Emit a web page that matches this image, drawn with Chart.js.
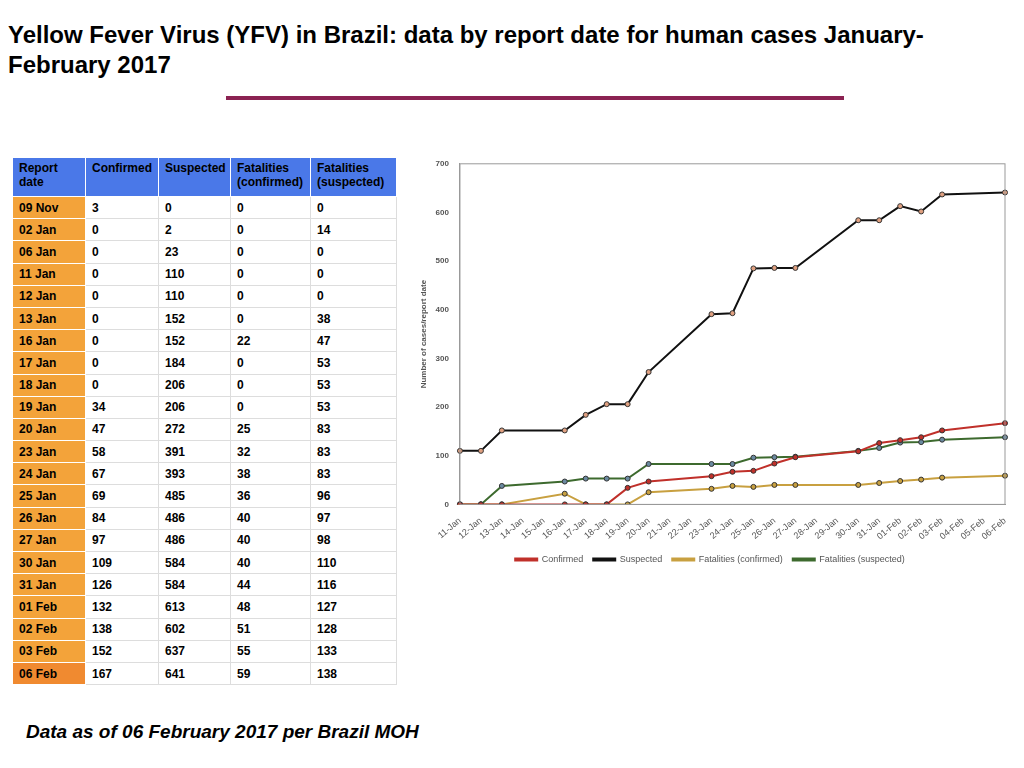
<!DOCTYPE html>
<html><head><meta charset="utf-8">
<script src="https://cdn.jsdelivr.net/npm/chart.js@4/dist/chart.umd.min.js"></script>
<style>
body{margin:0;width:1024px;height:768px;background:#fff;font-family:"Liberation Sans",Arial,sans-serif;position:relative;overflow:hidden}
h1{position:absolute;left:8px;top:20px;width:1010px;margin:0;font-size:24px;line-height:30px;font-weight:bold;text-align:justify;text-align-last:left}
#rule{position:absolute;left:226px;top:96px;width:618px;height:4px;background:#8b2252}
table{position:absolute;left:12px;top:157px;width:384px;border-collapse:collapse;font-size:12px;font-weight:bold;table-layout:fixed}
td,th{border:1px solid #ddd;padding:0 6px;text-align:left;height:21.2px}
th{background:#4a78e8;vertical-align:top;padding-top:3px;height:35px;font-weight:bold;line-height:14px;border-color:#fff}
td:first-child{background:#f3a33a;border-color:#fff}
tr:last-child td:first-child{background:#f08a30}
#foot{position:absolute;left:26px;top:721px;font-size:19px;font-weight:bold;font-style:italic}
#wrap{position:absolute;left:415px;top:156px;width:600px;height:418px}
</style></head><body>
<h1>Yellow Fever Virus (YFV) in Brazil: data by report date for human cases January-<br>February 2017</h1>
<div id="rule"></div>
<table id="tbl"><colgroup><col style="width:73px"><col style="width:73px"><col style="width:72px"><col style="width:80px"><col style="width:86px"></colgroup></table>
<div id="wrap"><canvas id="c"></canvas></div>
<div id="foot">Data as of 06 February 2017 per Brazil MOH</div>
<script>
const reportDates = ["09 Nov","02 Jan","06 Jan","11 Jan","12 Jan","13 Jan","16 Jan","17 Jan","18 Jan","19 Jan","20 Jan","23 Jan","24 Jan","25 Jan","26 Jan","27 Jan","30 Jan","31 Jan","01 Feb","02 Feb","03 Feb","06 Feb"];
const confirmed = [3,0,0,0,0,0,0,0,0,34,47,58,67,69,84,97,109,126,132,138,152,167];
const suspected = [0,2,23,110,110,152,152,184,206,206,272,391,393,485,486,486,584,584,613,602,637,641];
const fatConfirmed = [0,0,0,0,0,0,22,0,0,0,25,32,38,36,40,40,40,44,48,51,55,59];
const fatSuspected = [0,14,0,0,0,38,47,53,53,53,83,83,83,96,97,98,110,116,127,128,133,138];
const axisLabels = ["11-Jan","12-Jan","13-Jan","14-Jan","15-Jan","16-Jan","17-Jan","18-Jan","19-Jan","20-Jan","21-Jan","22-Jan","23-Jan","24-Jan","25-Jan","26-Jan","27-Jan","28-Jan","29-Jan","30-Jan","31-Jan","01-Feb","02-Feb","03-Feb","04-Feb","05-Feb","06-Feb"];

// table
let html = "<tr><th>Report<br>date</th><th>Confirmed</th><th>Suspected</th><th>Fatalities<br>(confirmed)</th><th>Fatalities<br>(suspected)</th></tr>";
reportDates.forEach((d, i) => {
    html += `<tr><td>${d}</td><td>${confirmed[i]}</td><td>${suspected[i]}</td><td>${fatConfirmed[i]}</td><td>${fatSuspected[i]}</td></tr>`;
});
document.getElementById("tbl").insertAdjacentHTML("beforeend", html);

// map report dates onto the daily axis (from 11 Jan on)
function toAxis(values) {
    return axisLabels.map(lbl => {
        const key = lbl.slice(0, 2) + " " + lbl.slice(3);
        const i = reportDates.indexOf(key);
        return i >= 0 ? values[i] : null;
    });
}
function ds(label, values, color, pointColor) {
    return {label, data: toAxis(values), borderColor: color, backgroundColor: color,
        borderWidth: 2, pointRadius: 2.5, pointBackgroundColor: pointColor,
        pointBorderColor: "#333", pointBorderWidth: 1, spanGaps: true, tension: 0};
}
new Chart(document.getElementById("c"), {
    type: "line",
    data: {
        labels: axisLabels,
        datasets: [
            ds("Confirmed", confirmed, "#c0302a", "#c0302a"),
            ds("Suspected", suspected, "#111111", "#e0a080"),
            ds("Fatalities (confirmed)", fatConfirmed, "#c8a040", "#c8a040"),
            ds("Fatalities (suspected)", fatSuspected, "#3d6a2e", "#6a8aa0")
        ]
    },
    options: {
        responsive: true, maintainAspectRatio: false, animation: false,
        layout: {padding: {right: 10}},
        plugins: {
            legend: {position: "bottom", labels: {boxWidth: 22, boxHeight: 2, font: {size: 9}, color: "#555"}}
        },
        scales: {
            x: {grid: {display: false}, border: {color: "#999"},
                ticks: {maxRotation: 40, minRotation: 40, autoSkip: false, font: {size: 9}, color: "#555"}},
            y: {min: 0, max: 700, ticks: {stepSize: 100, font: {size: 8, weight: "bold"}, color: "#555"},
                grid: {display: false}, border: {color: "#999"},
                title: {display: true, text: "Number of cases/report date", font: {size: 8, weight: "bold"}, color: "#555"}}
        }
    },
    plugins: [{id: "frame", afterDraw(ch) {
        const a = ch.chartArea, g = ch.ctx;
        g.save(); g.strokeStyle = "#999"; g.lineWidth = 1;
        g.strokeRect(a.left, a.top, a.right - a.left, a.bottom - a.top); g.restore();
    }}]
});
</script>
</body></html>
